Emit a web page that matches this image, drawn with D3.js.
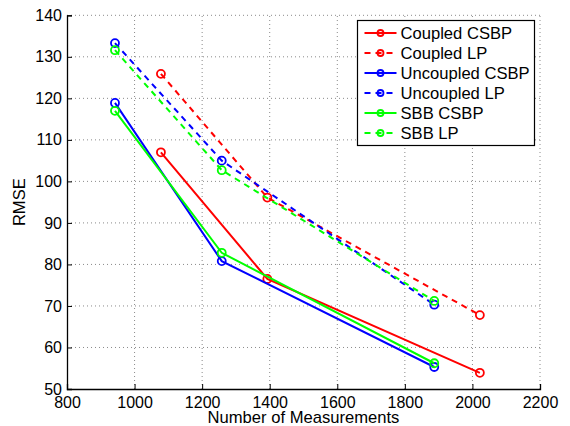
<!DOCTYPE html>
<html>
<head>
<meta charset="utf-8">
<script src="https://cdn.jsdelivr.net/npm/d3@7"></script>
<style>
  body { margin: 0; background: #fff; }
  svg { display: block; font-family: "Liberation Sans", Arial, sans-serif; }
</style>
</head>
<body>
<svg id="chart" width="570" height="426"></svg>
<script>
// values
const seriesNames = ["Coupled CSBP", "Coupled LP", "Uncoupled CSBP", "Uncoupled LP", "SBB CSBP", "SBB LP"];
const coupledCsbp = [[1078, 107.0], [1393, 76.5], [2022, 53.9]];
const coupledLp = [[1078, 125.9], [1393, 96.1], [2022, 67.8]];
const uncoupledCsbp = [[942, 118.9], [1258, 80.8], [1887, 55.3]];
const uncoupledLp = [[942, 133.3], [1258, 105.0], [1887, 70.3]];
const sbbCsbp = [[942, 117.0], [1258, 82.8], [1887, 56.2]];
const sbbLp = [[942, 131.6], [1258, 102.7], [1887, 71.2]];
const xTicks = [800, 1000, 1200, 1400, 1600, 1800, 2000, 2200];
const yTicks = [50, 60, 70, 80, 90, 100, 110, 120, 130, 140];

const series = [
  { name: seriesNames[0], data: coupledCsbp, color: "#ff0000", dashed: false },
  { name: seriesNames[1], data: coupledLp, color: "#ff0000", dashed: true },
  { name: seriesNames[2], data: uncoupledCsbp, color: "#0000ff", dashed: false },
  { name: seriesNames[3], data: uncoupledLp, color: "#0000ff", dashed: true },
  { name: seriesNames[4], data: sbbCsbp, color: "#00ff00", dashed: false },
  { name: seriesNames[5], data: sbbLp, color: "#00ff00", dashed: true }
];

const svg = d3.select("#chart");
const margin = { left: 67, right: 30, top: 15.3, bottom: 37 };
const width = 570, height = 426;

const x = d3.scaleLinear().domain([800, 2200]).range([margin.left, width - margin.right]);
const y = d3.scaleLinear().domain([50, 140]).range([height - margin.bottom, margin.top]);

// grid
const grid = svg.append("g")
  .attr("stroke", "#8a8a8a")
  .attr("stroke-width", 1)
  .attr("stroke-dasharray", "1,3");
grid.selectAll(".gx").data(xTicks.slice(1)).join("line")
  .attr("x1", d => x(d)).attr("x2", d => x(d))
  .attr("y1", y(50)).attr("y2", y(140));
grid.selectAll(".gy").data(yTicks.slice(1)).join("line")
  .attr("x1", x(800)).attr("x2", x(2200))
  .attr("y1", d => y(d)).attr("y2", d => y(d));

// axes
const xAxis = d3.axisBottom(x).tickValues(xTicks).tickSize(-5).tickPadding(8).tickFormat(d3.format("d"));
const yAxis = d3.axisLeft(y).tickValues(yTicks).tickSize(-5).tickPadding(5).tickFormat(d3.format("d"));

const gx = svg.append("g")
  .attr("transform", `translate(0,${y(50)})`)
  .call(xAxis);
const gy = svg.append("g")
  .attr("transform", `translate(${x(800)},0)`)
  .call(yAxis);

[gx, gy].forEach(g => {
  g.select(".domain").attr("stroke", "#000").attr("stroke-width", 1.3);
  g.selectAll(".tick line").attr("stroke", "#000");
  g.selectAll(".tick text").attr("font-size", 16).attr("fill", "#000")
    .attr("font-family", "Liberation Sans, Arial, sans-serif");
});

svg.append("text")
  .attr("x", (x(800) + x(2200)) / 2)
  .attr("y", 423)
  .attr("text-anchor", "middle")
  .attr("font-size", 16.6)
  .text("Number of Measurements");

svg.append("text")
  .attr("transform", `translate(25,${(y(50) + y(140)) / 2}) rotate(-90)`)
  .attr("text-anchor", "middle")
  .attr("font-size", 16.6)
  .text("RMSE");

// lines and markers
const line = d3.line().x(d => x(d[0])).y(d => y(d[1]));

series.forEach(s => {
  svg.append("path")
    .datum(s.data)
    .attr("fill", "none")
    .attr("stroke", s.color)
    .attr("stroke-width", 2)
    .attr("stroke-dasharray", s.dashed ? "6,5" : null)
    .attr("d", line);
  svg.append("g").selectAll("circle").data(s.data).join("circle")
    .attr("cx", d => x(d[0]))
    .attr("cy", d => y(d[1]))
    .attr("r", 4)
    .attr("fill", "none")
    .attr("stroke", s.color)
    .attr("stroke-width", 1.8);
});

// legend
const legend = svg.append("g").attr("transform", "translate(357.5,20.5)");
legend.append("rect")
  .attr("width", 177).attr("height", 125)
  .attr("fill", "#fff").attr("stroke", "#000").attr("stroke-width", 1.2);

const items = legend.selectAll(".item").data(series).join("g")
  .attr("transform", (d, i) => `translate(0,${12.5 + i * 20})`);
items.append("line")
  .attr("x1", 7).attr("x2", 39)
  .attr("stroke", d => d.color)
  .attr("stroke-width", 2)
  .attr("stroke-dasharray", d => d.dashed ? "6,5" : null);
items.append("circle")
  .attr("cx", 23).attr("r", 3)
  .attr("fill", "none")
  .attr("stroke", d => d.color)
  .attr("stroke-width", 1.8);
items.append("text")
  .attr("x", 43).attr("dy", "0.35em")
  .attr("font-size", 16.6)
  .text(d => d.name);
</script>
</body>
</html>
